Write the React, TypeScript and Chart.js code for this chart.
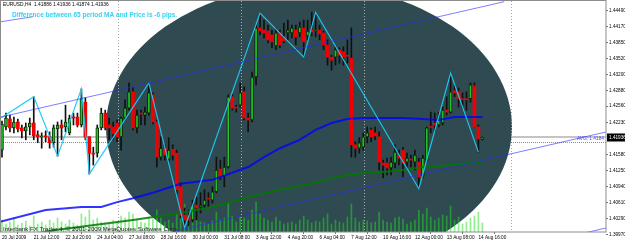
import React, { useEffect, useRef } from 'react';
import { Chart, registerables } from 'chart.js';

Chart.register(...registerables);

// ---------- data ----------
const symbolTitle = 'EURUSD,H4  1.41886 1.41936 1.41874 1.41936';
const noteText = 'Difference between 65 period MA and Price is -6 pips.';
const copyrightText = 'Interbank FX Trader 4, \u00A9 2001-2009 MetaQuotes Software Corp.';
const levelText = 'AVG: 1.4184';

const xLabels = ['20 Jul 2009', '21 Jul 12:00', '22 Jul 20:00', '24 Jul 04:00', '27 Jul 08:00', '28 Jul 16:00', '30 Jul 00:00', '31 Jul 08:00', '3 Aug 12:00', '4 Aug 20:00', '6 Aug 04:00', '7 Aug 12:00', '10 Aug 16:00', '12 Aug 00:00', '13 Aug 08:00', '14 Aug 16:00'];
const xLabelBars = [0, 8, 16, 24, 32, 40, 48, 56, 64, 72, 80, 88, 96, 104, 112, 120];
const yTicks = [1.4449, 1.4417, 1.4385, 1.4352, 1.432, 1.4288, 1.4256, 1.4223, 1.4158, 1.4125, 1.4094, 1.4061, 1.4029, 1.3997];

const opens = [1.4167, 1.4214, 1.4230, 1.4212, 1.4224, 1.4212, 1.4206, 1.4214, 1.4222, 1.4198, 1.4194, 1.4196, 1.4194, 1.4182, 1.4210, 1.4218, 1.4214, 1.4202, 1.4234, 1.4234, 1.4218, 1.4264, 1.4194, 1.4161, 1.4161, 1.4212, 1.4242, 1.4218, 1.4214, 1.4222, 1.4194, 1.4232, 1.4252, 1.4285, 1.4212, 1.4242, 1.4238, 1.4242, 1.4279, 1.4224, 1.4153, 1.4171, 1.4149, 1.4169, 1.4161, 1.4093, 1.4036, 1.4034, 1.4026, 1.4056, 1.4052, 1.4056, 1.4070, 1.4066, 1.4083, 1.4129, 1.4115, 1.4133, 1.4275, 1.4254, 1.4258, 1.4285, 1.4232, 1.4228, 1.4315, 1.4414, 1.4410, 1.4408, 1.4400, 1.4378, 1.4404, 1.4394, 1.4404, 1.4404, 1.4410, 1.4404, 1.4414, 1.4398, 1.4410, 1.4408, 1.4410, 1.4404, 1.4380, 1.4355, 1.4355, 1.4370, 1.4366, 1.4359, 1.4353, 1.4178, 1.4171, 1.4173, 1.4194, 1.4208, 1.4202, 1.4194, 1.4141, 1.4141, 1.4131, 1.4141, 1.4157, 1.4167, 1.4143, 1.4149, 1.4143, 1.4143, 1.4115, 1.4147, 1.4214, 1.4222, 1.4218, 1.4222, 1.4248, 1.4244, 1.4287, 1.4285, 1.4271, 1.4271, 1.4271, 1.4297, 1.4214, 1.41886];
const highs = [1.4226, 1.4242, 1.4238, 1.4234, 1.4230, 1.4218, 1.4222, 1.4232, 1.4275, 1.4206, 1.4202, 1.4206, 1.4204, 1.4218, 1.4224, 1.4228, 1.4258, 1.4238, 1.4242, 1.4242, 1.4291, 1.4273, 1.4194, 1.4173, 1.4218, 1.4252, 1.4248, 1.4232, 1.4224, 1.4228, 1.4234, 1.4269, 1.4303, 1.4293, 1.4248, 1.4248, 1.4254, 1.4303, 1.4283, 1.4228, 1.4194, 1.4178, 1.4192, 1.4178, 1.4167, 1.4101, 1.4050, 1.4046, 1.4066, 1.4072, 1.4081, 1.4087, 1.4081, 1.4093, 1.4153, 1.4147, 1.4153, 1.4279, 1.4279, 1.4258, 1.4303, 1.4295, 1.4242, 1.4325, 1.4420, 1.4444, 1.4430, 1.4420, 1.4410, 1.4414, 1.4410, 1.4424, 1.4430, 1.4420, 1.4420, 1.4426, 1.4430, 1.4430, 1.4446, 1.4446, 1.4420, 1.4408, 1.4390, 1.4359, 1.4376, 1.4374, 1.4376, 1.4390, 1.4414, 1.4184, 1.4192, 1.4202, 1.4214, 1.4212, 1.4214, 1.4204, 1.4147, 1.4151, 1.4153, 1.4178, 1.4167, 1.4173, 1.4161, 1.4157, 1.4167, 1.4151, 1.4157, 1.4214, 1.4244, 1.4242, 1.4244, 1.4254, 1.4275, 1.4323, 1.4299, 1.4293, 1.4283, 1.4285, 1.4303, 1.4303, 1.4218, 1.41936];
const lows = [1.4153, 1.4208, 1.4204, 1.4202, 1.4204, 1.4192, 1.4188, 1.4198, 1.4188, 1.4182, 1.4171, 1.4184, 1.4171, 1.4173, 1.4155, 1.4188, 1.4204, 1.4198, 1.4218, 1.4214, 1.4214, 1.4188, 1.4119, 1.4137, 1.4153, 1.4208, 1.4208, 1.4188, 1.4188, 1.4184, 1.4167, 1.4228, 1.4248, 1.4208, 1.4202, 1.4218, 1.4218, 1.4238, 1.4220, 1.4133, 1.4147, 1.4147, 1.4143, 1.4147, 1.4076, 1.4030, 1.4010, 1.4014, 1.4022, 1.4026, 1.4040, 1.4050, 1.4052, 1.4060, 1.4081, 1.4107, 1.4093, 1.4131, 1.4248, 1.4244, 1.4254, 1.4228, 1.4204, 1.4224, 1.4299, 1.4400, 1.4394, 1.4384, 1.4374, 1.4370, 1.4374, 1.4384, 1.4390, 1.4394, 1.4380, 1.4396, 1.4355, 1.4390, 1.4398, 1.4396, 1.4390, 1.4370, 1.4339, 1.4329, 1.4339, 1.4343, 1.4339, 1.4343, 1.4153, 1.4153, 1.4161, 1.4167, 1.4182, 1.4184, 1.4188, 1.4127, 1.4111, 1.4117, 1.4117, 1.4131, 1.4137, 1.4113, 1.4133, 1.4133, 1.4127, 1.4089, 1.4111, 1.4143, 1.4202, 1.4204, 1.4214, 1.4218, 1.4238, 1.4242, 1.4275, 1.4254, 1.4252, 1.4248, 1.4264, 1.4214, 1.4163, 1.41874];
const closes = [1.4220, 1.4232, 1.4212, 1.4224, 1.4210, 1.4206, 1.4214, 1.4222, 1.4196, 1.4194, 1.4196, 1.4194, 1.4182, 1.4212, 1.4218, 1.4212, 1.4224, 1.4232, 1.4232, 1.4218, 1.4271, 1.4194, 1.4161, 1.4159, 1.4212, 1.4242, 1.4212, 1.4212, 1.4200, 1.4194, 1.4232, 1.4252, 1.4285, 1.4212, 1.4238, 1.4240, 1.4244, 1.4283, 1.4224, 1.4153, 1.4171, 1.4157, 1.4167, 1.4157, 1.4087, 1.4036, 1.4026, 1.4026, 1.4056, 1.4050, 1.4056, 1.4066, 1.4068, 1.4083, 1.4127, 1.4113, 1.4133, 1.4275, 1.4252, 1.4252, 1.4283, 1.4232, 1.4228, 1.4315, 1.4414, 1.4408, 1.4404, 1.4390, 1.4386, 1.4404, 1.4380, 1.4388, 1.4410, 1.4414, 1.4396, 1.4416, 1.4386, 1.4408, 1.4406, 1.4410, 1.4402, 1.4380, 1.4355, 1.4349, 1.4370, 1.4359, 1.4355, 1.4357, 1.4178, 1.4171, 1.4182, 1.4194, 1.4202, 1.4194, 1.4196, 1.4143, 1.4137, 1.4131, 1.4143, 1.4163, 1.4151, 1.4141, 1.4151, 1.4147, 1.4157, 1.4113, 1.4151, 1.4212, 1.4213, 1.4218, 1.4232, 1.4248, 1.4244, 1.4285, 1.4283, 1.4271, 1.4269, 1.4269, 1.4299, 1.4214, 1.4190, 1.41936];
const volumes = [1200, 800, 1000, 1400, 700, 900, 1100, 600, 1600, 800, 1000, 700, 1200, 900, 1400, 1000, 800, 1200, 900, 700, 1800, 1500, 2200, 1200, 1400, 1000, 900, 800, 1200, 1000, 1600, 1400, 2000, 1800, 1200, 1000, 900, 1500, 1300, 2200, 1400, 1000, 1200, 900, 1800, 2500, 2800, 2000, 1500, 1200, 1000, 900, 800, 1100, 2000, 1200, 1400, 3000, 1600, 1000, 1500, 1400, 1200, 2200, 3000, 1800, 1400, 1200, 1000, 1500, 1100, 800, 900, 1000, 800, 1200, 1600, 1200, 900, 1100, 1000, 1400, 1800, 800, 1200, 1000, 900, 1500, 2800, 1400, 1000, 1200, 1100, 900, 1000, 2000, 1200, 1000, 900, 1400, 1500, 1300, 800, 1000, 1200, 2200, 1800, 2400, 1500, 1200, 1400, 1700, 1600, 2600, 1200, 1500, 800, 1000, 1400, 1600, 2000, 900];

const maBars = [-0.25, 11, 20, 25, 29, 33, 38, 45, 53, 62, 66, 70, 75, 79, 83, 87, 91, 96, 101, 106, 110, 114, 118, 121];
const maValues = [1.4023, 1.4046, 1.4052, 1.4052, 1.4062, 1.4070, 1.4081, 1.4099, 1.4107, 1.4133, 1.4153, 1.4171, 1.4188, 1.4208, 1.4222, 1.4230, 1.4232, 1.4232, 1.4232, 1.4230, 1.4228, 1.4234, 1.4234, 1.4234];
const slowMaBars = [8, 14, 33, 45, 53, 62, 70, 79, 83, 87, 91, 96, 101, 106, 110, 118, 121];
const slowMaValues = [1.3998, 1.4006, 1.4026, 1.4040, 1.4052, 1.4072, 1.4087, 1.4101, 1.4111, 1.4117, 1.4121, 1.4123, 1.4127, 1.4133, 1.4135, 1.4141, 1.4143];
const zigBars = [-0.25, 8, 14, 20, 22, 37, 46, 65, 76, 79, 105, 113, 120];
const zigValues = [1.4232, 1.4275, 1.4155, 1.4291, 1.4119, 1.4303, 1.4010, 1.4444, 1.4355, 1.4446, 1.4089, 1.4323, 1.4163];
const channelTopBars = [-0.25, 7.8];
const channelTopValues = [1.44267, 1.44368];
const channelUpperBars = [-0.25, 126.5];
const channelUpperValues = [1.42341, 1.44672];
const channelMidBars = [37, 153];
const channelMidValues = [1.39914, 1.42054];
const channelLowBars = [140, 153];
const channelLowValues = [1.39873, 1.40113];
const separatorBars = [29.2, 60.2, 91.2, 128.2];
const lastPrice = 1.41936;
const levelPrice = 1.4184;
const ellipseCenterBar = 77.33;
const ellipseCenterPrice = 1.42139;
const ellipseHalfBars = 51.13;
const ellipseHalfPrice = 0.0287;

const X_MIN = -0.25;
const X_MAX = 152.14;
const Y_MIN = 1.40016;
const Y_MAX = 1.44686;
const VOL_MAX = 23100;

const FONT = 'Liberation Sans';

const pts = (xs: number[], ys: number[]) => xs.map((x, i) => ({ x, y: ys[i] }));

export default function App() {
  const ref = useRef<HTMLCanvasElement | null>(null);

  useEffect(() => {
    const canvas = ref.current;
    if (!canvas) return;
    const idx = opens.map((_, i) => i);
    const bull = (i: number) => closes[i] >= opens[i];

    const objectsPlugin = {
      id: 'mtObjects',
      beforeDatasetsDraw(chart: any) {
        const { ctx, chartArea: ca, scales } = chart;
        const xs = scales.x;
        const ys = scales.y;
        ctx.save();
        ctx.beginPath();
        ctx.rect(ca.left, ca.top, ca.right - ca.left, ca.bottom - ca.top);
        ctx.clip();
        const by = Math.round(ys.getPixelForValue(lastPrice)) + 0.5;
        ctx.strokeStyle = '#c8c4c0';
        ctx.lineWidth = 1;
        ctx.beginPath();
        ctx.moveTo(ca.left, by - 1);
        ctx.lineTo(ca.right, by - 1);
        ctx.moveTo(ca.left, by);
        ctx.lineTo(ca.right, by);
        ctx.stroke();
        const cx = xs.getPixelForValue(ellipseCenterBar);
        const cy = ys.getPixelForValue(ellipseCenterPrice);
        const rx = xs.getPixelForValue(ellipseCenterBar + ellipseHalfBars) - cx;
        const ry = ys.getPixelForValue(ellipseCenterPrice - ellipseHalfPrice) - cy;
        ctx.fillStyle = '#2f4b51';
        ctx.beginPath();
        ctx.ellipse(cx, cy, rx, ry, 0, 0, Math.PI * 2);
        ctx.fill();
        ctx.strokeStyle = '#a8a8a8';
        ctx.setLineDash([1, 2]);
        ctx.beginPath();
        separatorBars.forEach((b) => {
          const px = Math.round(xs.getPixelForValue(b)) + 0.5;
          ctx.moveTo(px, ca.top);
          ctx.lineTo(px, ca.bottom);
        });
        ctx.stroke();
        const ly = Math.round(ys.getPixelForValue(levelPrice)) + 0.5;
        ctx.strokeStyle = 'rgba(40,40,255,0.6)';
        ctx.setLineDash([1, 1]);
        ctx.beginPath();
        ctx.moveTo(ca.left, ly);
        ctx.lineTo(ca.right, ly);
        ctx.stroke();
        ctx.setLineDash([]);
        ctx.restore();
      },
      afterDraw(chart: any) {
        const { ctx, chartArea: ca, scales } = chart;
        const ys = scales.y;
        ctx.save();
        ctx.strokeStyle = '#8c8c8c';
        ctx.lineWidth = 1;
        ctx.strokeRect(ca.left - 0.5, ca.top - 0.5, ca.right - ca.left + 0.5, ca.bottom - ca.top + 0.5);
        ctx.textBaseline = 'middle';
        ctx.textAlign = 'left';
        ctx.fillStyle = '#000';
        ctx.font = `4.9px "${FONT}"`;
        ctx.fillText(symbolTitle, 3, 5);
        ctx.fillStyle = '#33d2f2';
        ctx.font = `bold 6.5px "${FONT}"`;
        ctx.fillText(noteText, 12, 15.5);
        ctx.fillStyle = '#202020';
        ctx.font = `6.1px "${FONT}"`;
        ctx.fillText(copyrightText, 3, 229);
        const ly = ys.getPixelForValue(levelPrice);
        ctx.fillStyle = '#4a4aff';
        ctx.textAlign = 'right';
        ctx.font = `4.8px "${FONT}"`;
        ctx.fillText(levelText, ca.right - 2, ly - 3.5);
        const py = Math.round(ys.getPixelForValue(lastPrice));
        ctx.fillStyle = '#000';
        ctx.fillRect(ca.right + 1, py - 3.5, 30, 8);
        ctx.fillStyle = '#fff';
        ctx.textAlign = 'left';
        ctx.font = `4.7px "${FONT}"`;
        ctx.fillText(lastPrice.toFixed(5), ca.right + 3, py + 0.5);
        ctx.restore();
      },
    };

    const lineDs = (label: string, data: any[], color: string, width: number, order: number) => ({
      type: 'line',
      label,
      data,
      borderColor: color,
      borderWidth: width,
      pointRadius: 0,
      order,
    });

    const chart = new Chart(canvas, {
      type: 'bar',
      data: {
        datasets: [
          lineDs('channelTop', pts(channelTopBars, channelTopValues), 'rgba(40,40,255,0.6)', 1, 1),
          lineDs('channelUpper', pts(channelUpperBars, channelUpperValues), 'rgba(40,40,255,0.6)', 1, 1),
          lineDs('channelMid', pts(channelMidBars, channelMidValues), 'rgba(40,40,255,0.6)', 1, 1),
          lineDs('channelLow', pts(channelLowBars, channelLowValues), 'rgba(40,40,255,0.6)', 1, 1),
          lineDs('zigzag', pts(zigBars, zigValues), 'rgba(30,200,245,0.95)', 1.2, 2),
          lineDs('ma', pts(maBars, maValues), 'rgba(0,0,255,0.8)', 2, 3),
          lineDs('slowMa', pts(slowMaBars, slowMaValues), 'rgba(0,120,0,0.85)', 2, 3),
          {
            type: 'bar',
            label: 'bodies',
            data: idx.map((i) => ({ x: i, y: [opens[i], closes[i]] })),
            backgroundColor: idx.map((i) => (bull(i) ? '#22c422' : '#f00000')),
            borderColor: idx.map((i) => (bull(i) ? '#0a2a0a' : '#f00000')),
            borderWidth: idx.map((i) => (bull(i) ? 1 : 0)),
            borderSkipped: false,
            barThickness: 3,
            minBarLength: 1,
            grouped: false,
            order: 4,
          },
          {
            type: 'bar',
            label: 'wicks',
            data: idx.map((i) => ({ x: i, y: [lows[i], highs[i]] })),
            backgroundColor: '#101010',
            barThickness: 1,
            grouped: false,
            order: 5,
          },
          {
            type: 'bar',
            label: 'volume',
            yAxisID: 'yv',
            data: idx.map((i) => ({ x: i, y: volumes[i] })),
            backgroundColor: 'rgba(34,221,34,0.5)',
            barThickness: 1,
            grouped: false,
            order: 6,
          },
        ] as any,
      },
      options: {
        animation: false,
        responsive: false,
        maintainAspectRatio: false,
        events: [],
        layout: { padding: { left: 1, top: 1, right: 0, bottom: 0 } },
        plugins: { legend: { display: false }, tooltip: { enabled: false } },
        scales: {
          x: {
            type: 'linear',
            min: X_MIN,
            max: X_MAX,
            offset: false,
            position: 'bottom',
            grid: { drawOnChartArea: false, drawTicks: true, tickLength: 2, color: '#707070' },
            border: { display: false },
            ticks: {
              autoSkip: false,
              maxRotation: 0,
              minRotation: 0,
              align: 'start',
              padding: 0.5,
              color: '#000',
              font: { family: FONT, size: 4.7 },
              callback: (_v: any, i: number) => xLabels[i],
            },
            afterBuildTicks: (s: any) => {
              s.ticks = xLabelBars.map((v) => ({ value: v }));
            },
            afterFit: (s: any) => {
              s.height = 11;
              s.paddingLeft = 0;
              s.paddingRight = 0;
            },
          },
          y: {
            type: 'linear',
            position: 'right',
            min: Y_MIN,
            max: Y_MAX,
            beginAtZero: false,
            grid: { drawOnChartArea: false, drawTicks: true, tickLength: 2, color: '#707070' },
            border: { display: false },
            ticks: {
              padding: 1,
              color: '#000',
              font: { family: FONT, size: 4.7 },
              callback: (v: any) => Number(v).toFixed(5),
            },
            afterBuildTicks: (s: any) => {
              s.ticks = yTicks.map((v) => ({ value: v }));
            },
            afterFit: (s: any) => {
              s.width = 19;
              s.paddingTop = 0;
              s.paddingBottom = 0;
            },
          },
          yv: {
            type: 'linear',
            display: false,
            min: 0,
            max: VOL_MAX,
          },
        },
      } as any,
      plugins: [objectsPlugin],
    });

    return () => chart.destroy();
  }, []);

  return (
    <div style={{ position: 'fixed', left: 0, top: 0, width: 625, height: 243, background: '#fff' }}>
      <canvas ref={ref} width={625} height={243} style={{ display: 'block' }} />
    </div>
  );
}
